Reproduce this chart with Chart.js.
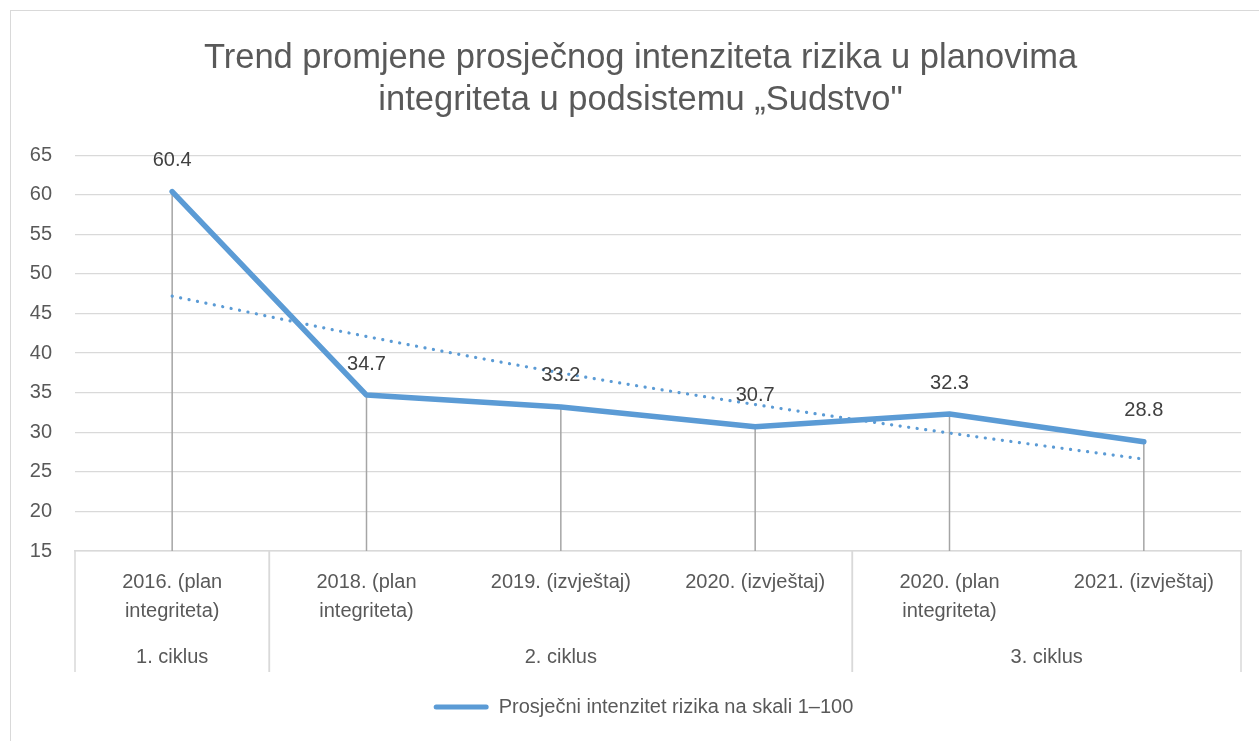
<!DOCTYPE html>
<html>
<head>
<meta charset="utf-8">
<script src="https://cdn.jsdelivr.net/npm/chart.js@4/dist/chart.umd.min.js"></script>
<style>
  body { margin: 0; background: #fff; overflow: hidden; }
  #wrap { position: relative; width: 1259px; height: 741px; }
  #frame { position: absolute; left: 10px; top: 10px; width: 1300px; height: 800px; border: 1.5px solid #d9d9d9; }
  #chart { position: absolute; left: 0; top: 0; }
</style>
</head>
<body>
<div id="wrap">
  <div id="frame"></div>
  <canvas id="chart" width="1259" height="741"></canvas>
</div>
<script>
var categories = [
  ["2016. (plan", "integriteta)"],
  ["2018. (plan", "integriteta)"],
  "2019. (izvještaj)",
  "2020. (izvještaj)",
  ["2020. (plan", "integriteta)"],
  "2021. (izvještaj)"
];
var groupLabels = ["1. ciklus", "2. ciklus", "3. ciklus"];
var groupSizes = [1, 3, 2];
var riskValues = [60.4, 34.7, 33.2, 30.7, 32.3, 28.8];
// exponential trend line
var trendValues = [47.2, 42.1, 37.5, 33.5, 29.9, 26.6];
var yTicks = { min: 15, max: 65, step: 5 };

var blue = "#5B9BD5";
var textGrey = "#595959";
var fontFam = "'Liberation Sans', Arial, sans-serif";
var fs = 20;

// title and legend sit a bit right of the canvas centre
var shiftBoxes = {
  id: "shiftBoxes",
  afterLayout: function(chart) {
    var t = chart.titleBlock, l = chart.legend;
    if (t) { t.left += 20; t.right += 20; }
    if (l) { l.left += 23; l.right += 23; }
  }
};

// grey drop lines from each point down to the axis
var dropLines = {
  id: "dropLines",
  beforeDatasetsDraw: function(chart) {
    var ctx = chart.ctx;
    var meta = chart.getDatasetMeta(0);
    var bottom = chart.chartArea.bottom;
    ctx.save();
    ctx.strokeStyle = "#a5a5a5";
    ctx.lineWidth = 1.5;
    meta.data.forEach(function(pt) {
      ctx.beginPath();
      ctx.moveTo(pt.x, pt.y);
      ctx.lineTo(pt.x, bottom);
      ctx.stroke();
    });
    ctx.restore();
  }
};

// value labels above points
var valueLabels = {
  id: "valueLabels",
  afterDatasetsDraw: function(chart) {
    var ctx = chart.ctx;
    var meta = chart.getDatasetMeta(0);
    ctx.save();
    ctx.font = fs + "px " + fontFam;
    ctx.fillStyle = "#404040";
    ctx.textAlign = "center";
    ctx.textBaseline = "middle";
    meta.data.forEach(function(pt, i) {
      ctx.fillText(riskValues[i].toFixed(1), pt.x, pt.y - 31);
    });
    ctx.restore();
  }
};

// second level of the x axis: cycle groups
var groupAxis = {
  id: "groupAxis",
  afterDraw: function(chart) {
    var ctx = chart.ctx;
    var xs = chart.scales.x;
    var top = chart.chartArea.bottom;
    var half = (xs.getPixelForTick(1) - xs.getPixelForTick(0)) / 2;
    ctx.save();
    ctx.strokeStyle = "#d9d9d9";
    ctx.lineWidth = 1.5;
    ctx.font = fs + "px " + fontFam;
    ctx.fillStyle = textGrey;
    ctx.textAlign = "center";
    ctx.textBaseline = "middle";
    var start = 0;
    groupSizes.forEach(function(n, g) {
      var x0 = xs.getPixelForTick(start) - half;
      var x1 = xs.getPixelForTick(start + n - 1) + half;
      ctx.beginPath();
      ctx.moveTo(x0, top);
      ctx.lineTo(x0, top + 121);
      ctx.moveTo(x1, top);
      ctx.lineTo(x1, top + 121);
      ctx.stroke();
      ctx.fillText(groupLabels[g], (x0 + x1) / 2, top + 106);
      start += n;
    });
    ctx.restore();
  }
};

var ctx = document.getElementById("chart").getContext("2d");
var chart = new Chart(ctx, {
  type: "line",
  data: {
    labels: categories,
    datasets: [{
      label: "Prosječni intenzitet rizika na skali 1–100",
      data: riskValues,
      borderColor: blue,
      backgroundColor: blue,
      borderWidth: 5.5,
      borderCapStyle: "round",
      borderJoinStyle: "round",
      pointRadius: 0,
      pointHoverRadius: 0
    }, {
      label: "trend",
      data: trendValues,
      borderColor: blue,
      backgroundColor: blue,
      borderWidth: 3.2,
      borderDash: [0.1, 8.5],
      borderCapStyle: "round",
      cubicInterpolationMode: "monotone",
      pointRadius: 0,
      pointHoverRadius: 0
    }]
  },
  options: {
    responsive: false,
    devicePixelRatio: 1,
    animation: false,
    layout: { padding: { left: 0, right: 18, top: 0, bottom: 14 } },
    plugins: {
      title: {
        display: true,
        text: ["Trend promjene prosječnog intenziteta rizika u planovima", "integriteta u podsistemu „Sudstvo\""],
        color: textGrey,
        font: { family: fontFam, size: 34.5, weight: "normal", lineHeight: 1.22 },
        padding: { top: 37, bottom: 34 }
      },
      legend: {
        position: "bottom",
        labels: {
          filter: function(item) { return item.datasetIndex === 0; },
          generateLabels: function(chart) {
            var items = Chart.defaults.plugins.legend.labels.generateLabels(chart);
            items.forEach(function(it) { it.lineWidth = 0; it.borderRadius = 2.5; });
            return items;
          },
          boxWidth: 55,
          boxHeight: 5,
          useBorderRadius: true,
          borderRadius: 2.5,
          padding: 10,
          color: textGrey,
          font: { family: fontFam, size: fs }
        }
      },
      tooltip: { enabled: false }
    },
    scales: {
      x: {
        offset: true,
        grid: { display: false },
        border: { display: true, color: "#d9d9d9", width: 1.5 },
        ticks: {
          color: textGrey,
          font: { family: fontFam, size: fs, lineHeight: 1.45 },
          padding: 8.5,
          maxRotation: 0,
          autoSkip: false
        },
        afterFit: function(scale) { scale.height = 136; }
      },
      y: {
        min: yTicks.min,
        max: yTicks.max,
        grid: { color: "#d9d9d9", lineWidth: 1.3, drawTicks: false },
        border: { display: false },
        ticks: {
          stepSize: yTicks.step,
          color: textGrey,
          font: { family: fontFam, size: fs },
          padding: 23
        },
        afterFit: function(scale) { scale.width = 75; }
      }
    }
  },
  plugins: [shiftBoxes, dropLines, valueLabels, groupAxis]
});
</script>
</body>
</html>
